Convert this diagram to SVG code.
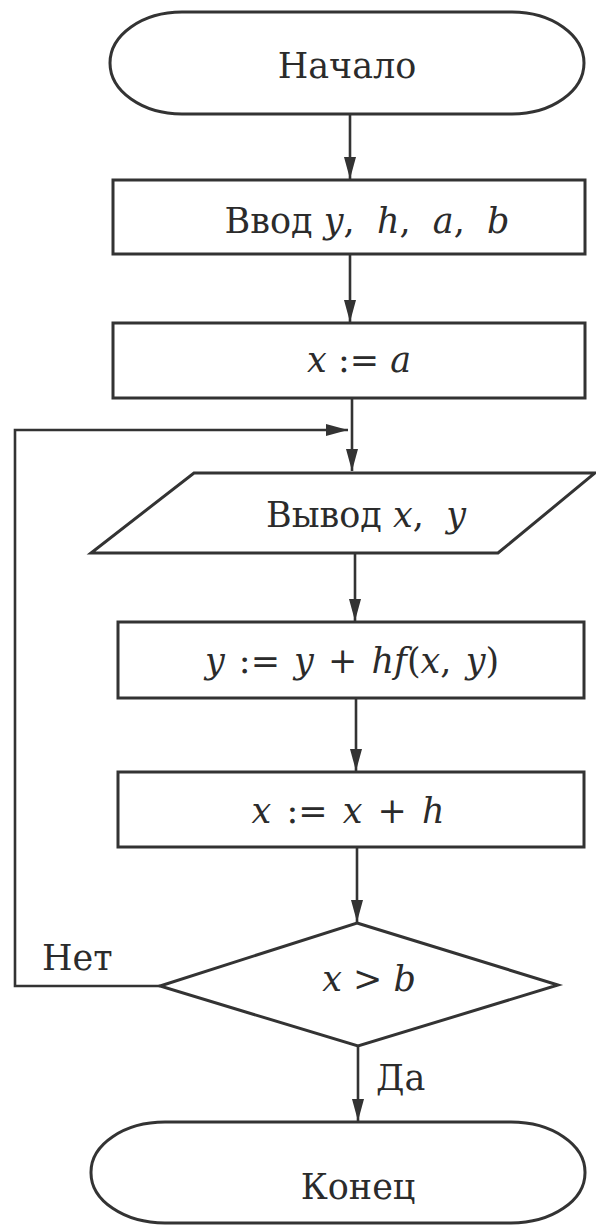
<svg xmlns="http://www.w3.org/2000/svg" width="596" height="1229" viewBox="0 0 596 1229">
<style>
.shape{fill:#fff;stroke:#333;stroke-width:3}
.line{fill:none;stroke:#333;stroke-width:2.6}
text{font-family:"DejaVu Serif",serif;font-size:35px;fill:#2b2b2b}
.i{font-style:italic}
</style>
<defs>
<marker id="ah" viewBox="0 0 22 12" refX="22" refY="6" markerWidth="22" markerHeight="12" markerUnits="userSpaceOnUse" orient="auto">
<path d="M0,0 L22,6 L0,12 z" fill="#333"/>
</marker>
</defs>
<rect width="596" height="1229" fill="#fff"/>
<g id="connectors">
<path class="line" d="M350,114 L350,179" marker-end="url(#ah)"/>
<path class="line" d="M350,254 L350,322" marker-end="url(#ah)"/>
<path class="line" d="M352,399 L352,471" marker-end="url(#ah)"/>
<path class="line" d="M160,986 L15,986 L15,430 L348,430" marker-end="url(#ah)"/>
<path class="line" d="M355,554 L355,621" marker-end="url(#ah)"/>
<path class="line" d="M356,699 L356,771" marker-end="url(#ah)"/>
<path class="line" d="M357,848 L357,922" marker-end="url(#ah)"/>
<path class="line" d="M358,1046 L358,1121" marker-end="url(#ah)"/>
<text x="42" y="970">Нет</text>
<text x="376" y="1090">Да</text>
</g>
<g id="start">
<rect class="shape" x="110" y="12" width="474" height="102" rx="72" ry="51"/>
<text x="347" y="78" text-anchor="middle">Начало</text>
</g>
<g id="input">
<rect class="shape" x="113" y="180" width="472" height="74"/>
<text x="367" y="233" text-anchor="middle" xml:space="preserve">Ввод <tspan class="i">y</tspan>,  <tspan class="i">h</tspan>,  <tspan class="i">a</tspan>,  <tspan class="i">b</tspan></text>
</g>
<g id="init">
<rect class="shape" x="113" y="323" width="472" height="75"/>
<text x="359" y="372" text-anchor="middle" xml:space="preserve"><tspan class="i">x</tspan> := <tspan class="i">a</tspan></text>
</g>
<g id="output">
<polygon class="shape" points="194,473 595,473 498,553 91,553"/>
<text x="366" y="527" text-anchor="middle" xml:space="preserve">Вывод <tspan class="i">x</tspan>,  <tspan class="i">y</tspan></text>
</g>
<g id="stepy">
<rect class="shape" x="118" y="622" width="466" height="76"/>
<text x="352" y="673" text-anchor="middle" word-spacing="3" xml:space="preserve"><tspan class="i">y</tspan> := <tspan class="i">y</tspan> + <tspan class="i">hf</tspan>(<tspan class="i">x</tspan>, <tspan class="i">y</tspan>)</text>
</g>
<g id="stepx">
<rect class="shape" x="118" y="772" width="466" height="75"/>
<text x="348" y="823" text-anchor="middle" word-spacing="4" xml:space="preserve"><tspan class="i">x</tspan> := <tspan class="i">x</tspan> + <tspan class="i">h</tspan></text>
</g>
<g id="cond">
<polygon class="shape" points="357,923 558,985 358,1046 160,986"/>
<text x="369" y="991" text-anchor="middle" xml:space="preserve"><tspan class="i">x</tspan> &gt; <tspan class="i">b</tspan></text>
</g>
<g id="end">
<rect class="shape" x="91" y="1122" width="494" height="101" rx="74" ry="50"/>
<text x="358" y="1199" text-anchor="middle">Конец</text>
</g>
</svg>
